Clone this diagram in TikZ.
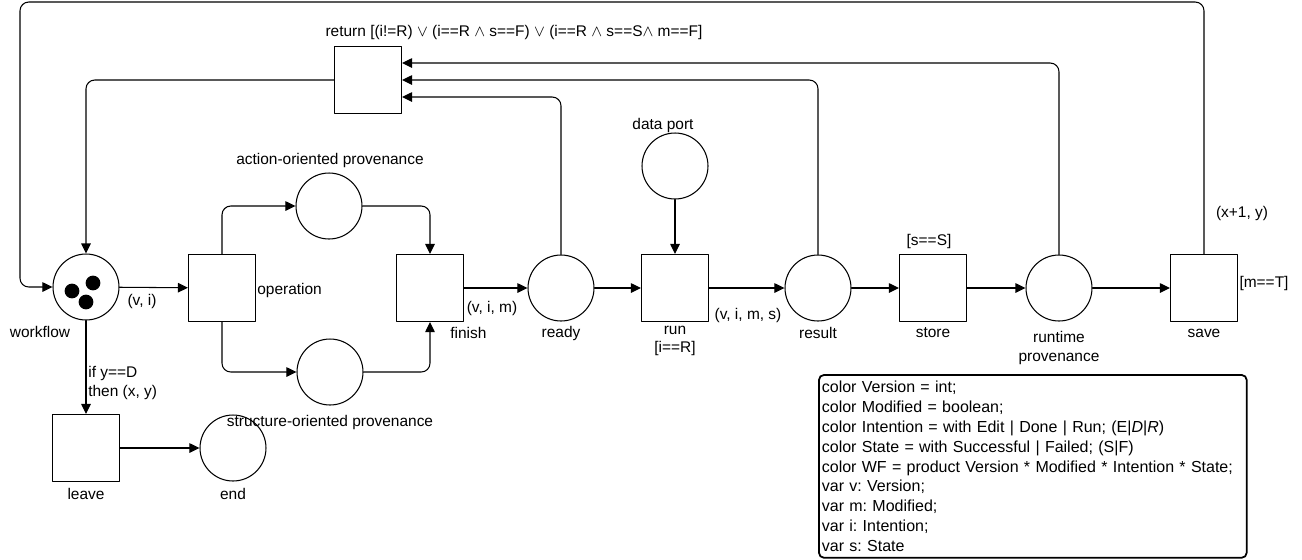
\documentclass[tikz,border=0pt]{standalone}
\usepackage{fontspec}
\setmainfont{Liberation Sans}
\usetikzlibrary{arrows.meta,calc}
\frenchspacing

\begin{document}
\begin{tikzpicture}[x=0.02cm,y=-0.02cm,line cap=round,line join=round,
  font=\fontsize{8.8}{10.5}\selectfont,
  place/.style={draw,circle,minimum size=1.32cm,inner sep=0pt,line width=0.6pt},
  trans/.style={draw,rectangle,minimum size=1.34cm,inner sep=0pt,line width=0.6pt},
  arc/.style={line width=0.6pt,rounded corners=5pt,-{Triangle[length=5.7pt,width=5.4pt]}},
  lbl/.style={inner sep=0pt,align=center}]
  \useasboundingbox (0,0) rectangle (1302,559);

  % Places and transitions of the main chain.
  \node[place] (workflow) at (86,287) {};
  \node[trans] (operation) at (222,288) {};
  \node[place] (action) at (329,206) {};
  \node[place] (structure) at (330,372) {};
  \node[trans] (finish) at (430,288) {};
  \node[place] (ready) at (561,288) {};
  \node[trans] (run) at (675,288) {};
  \node[place] (dataport) at (675,166) {};
  \node[place] (result) at (818,288) {};
  \node[trans] (store) at (933,288) {};
  \node[place] (runtime) at (1059,288) {};
  \node[trans] (save) at (1204,288) {};
  \node[trans] (ret) at (368,80) {};
  \node[trans] (leave) at (86,448) {};
  \node[place] (end) at (233,448) {};

  % Tokens in the workflow place.
  \fill (72,291) circle[radius=4.2pt];
  \fill (93,283) circle[radius=4.2pt];
  \fill (86,302) circle[radius=4.2pt];

  % Labels of places, transitions and arcs.
  \node[lbl] (l-workflow) at (40,332) {workflow};
  \node[lbl] (l-vi) at (142,301) {(v, i)};
  \node[lbl,anchor=west] (l-operation) at (257,290) {operation};
  \node[lbl] (l-action) at (330,160) {action-oriented provenance};
  \node[lbl] (l-structure) at (330,422) {structure-oriented provenance};
  \node[lbl,anchor=west] (l-finish) at (450,333) {finish};
  \node[lbl] (l-vim) at (492,308) {(v, i, m)};
  \node[lbl] (l-ready) at (561,333) {ready};
  \node[lbl] (l-run) at (675,341) {run\\{}[i==R]};
  \node[lbl] (l-dataport) at (663,125) {data port};
  \node[lbl] (l-vims) at (748,315) {(v, i, m, s)};
  \node[lbl] (l-result) at (818,333) {result};
  \node[lbl] (l-guardstore) at (929,241) {[s==S]};
  \node[lbl] (l-store) at (933,333) {store};
  \node[lbl] (l-runtime) at (1059,348) {runtime\\provenance};
  \node[lbl] (l-save) at (1204,333) {save};
  \node[lbl] (l-guardsave) at (1264,283) {[m==T]};
  \node[lbl] (l-xy) at (1242,213) {(x+1, y)};
  \node[lbl] (l-ret) at (514,32)
   {return [(i!=R) $\vee$ (i==R $\wedge$ s==F) $\vee$ (i==R $\wedge$ s==S$\wedge$ m==F]};
  \node[lbl,anchor=west,align=left] (l-leave) at (88,383) {if y==D\\then (x, y)};
  \node[lbl] (l-leavename) at (86,494) {leave};
  \node[lbl] (l-end) at (233,494) {end};

  % Arcs of the main chain.
  \draw[arc] (workflow) -- (operation);
  \draw[arc] (operation.north) |- (action.west);
  \draw[arc] (action.east) -| (finish.north);
  \draw[arc] (operation.south) |- (structure.west);
  \draw[arc] (structure.east) -| (finish.south);
  \draw[arc] (finish) -- (ready);
  \draw[arc] (ready) -- (run);
  \draw[arc] (dataport) -- (run);
  \draw[arc] (run) -- (result);
  \draw[arc] (result) -- (store);
  \draw[arc] (store) -- (runtime);
  \draw[arc] (runtime) -- (save);
  \draw[arc] (workflow) -- (leave);
  \draw[arc] (leave) -- (end);

  % Return arcs into the guard transition and back to the workflow.
  \draw[arc] (runtime.north) |- ($(ret.east)+(0,-17)$);
  \draw[arc] (result.north) |- (ret.east);
  \draw[arc] (ready.north) |- ($(ret.east)+(0,17)$);
  \draw[arc] (ret.west) -| (workflow.north);

  % Outer loop from save back to the workflow.
  \coordinate (topright) at (1204,2);
  \coordinate (topleft) at (20,2);
  \draw[arc] (save.north) -- (topright) -- (topleft) |- (workflow.west);

  % Colour set declarations.
  \node[draw,line width=1pt,rounded corners=3pt,anchor=north west,
   text width=8.44cm,minimum height=3.66cm,inner xsep=1.7pt,
   align=left,font=\fontsize{9.1}{11.28}\selectfont] (decl) at (818,374)
   {color Version = int;\\
    color Modified = boolean;\\
    color Intention = with Edit | Done | Run; (E|\textit{D}|\textit{R})\\
    color State = with Successful | Failed; (S|F)\\
    color WF = product Version * Modified * Intention * State;\\
    var v: Version;\\
    var m: Modified;\\
    var i: Intention;\\
    var s: State};
\end{tikzpicture}
\end{document}
